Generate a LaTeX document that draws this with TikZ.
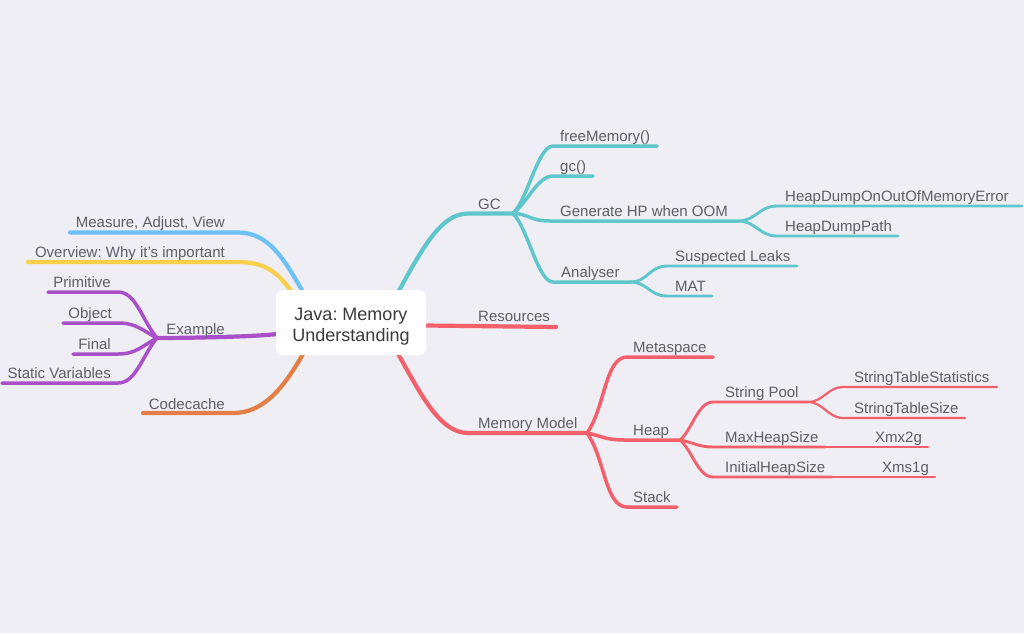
\documentclass[tikz,border=0pt]{standalone}
\usepackage{fontspec}
\setmainfont{Liberation Sans}
\definecolor{bgc}{HTML}{EFEEF4}
\definecolor{labelgray}{HTML}{5E5E66}
\definecolor{centergray}{HTML}{3A3A3E}
\definecolor{cteal}{HTML}{5FC7CB}
\definecolor{cred}{HTML}{F3606B}
\definecolor{cblue}{HTML}{6EC1F7}
\definecolor{cyellow}{HTML}{FBCF4A}
\definecolor{cpurple}{HTML}{A94FC8}
\definecolor{corange}{HTML}{E17F45}
\frenchspacing
\begin{document}
\begin{tikzpicture}[x=1pt,y=-1pt,
  lbl/.style={font=\fontsize{15}{18}\selectfont, text=labelgray, inner sep=0pt},
  lw/.style={lbl, anchor=base west},
  le/.style={lbl, anchor=base east},
  ctxt/.style={font=\fontsize{18}{21}\selectfont, text=centergray, inner sep=0pt, anchor=base},
  br/.style={line width=4.2pt, line cap=round, line join=round},
  sb/.style={line width=3.5pt, line cap=round, line join=round},
  tb/.style={line width=2.9pt, line cap=round, line join=round},
  qb/.style={line width=2.2pt, line cap=round, line join=round},
]
\useasboundingbox (0,0) rectangle (1024,633);
\fill[bgc] (0,0) rectangle (1024,633);

% ---------- coordinates ----------
% right: GC
\coordinate (gcS) at (396,296);
\coordinate (gcH) at (468,213.5);
\coordinate (gcJ) at (513,213.5);
\coordinate (fmH) at (553,146); \coordinate (fmE) at (657,146);
\coordinate (gccH) at (553,176); \coordinate (gccE) at (593,176);
\coordinate (genH) at (550,221); \coordinate (genJ) at (738,221);
\coordinate (hdoH) at (777,206); \coordinate (hdoE) at (1022,206);
\coordinate (hdpH) at (777,236); \coordinate (hdpE) at (898,236);
\coordinate (anH) at (553,282); \coordinate (anJ) at (630,282);
\coordinate (slH) at (667,266); \coordinate (slE) at (797,266);
\coordinate (matH) at (667,296); \coordinate (matE) at (712,296);
% right: Resources
\coordinate (resS) at (426,325.5); \coordinate (resE) at (556,327);
% right: Memory Model
\coordinate (mmS) at (396,350);
\coordinate (mmH) at (468,433);
\coordinate (mmJ) at (587,433);
\coordinate (msH) at (627,357); \coordinate (msE) at (713,357);
\coordinate (hpH) at (625,440); \coordinate (hpJ) at (680,440);
\coordinate (stH) at (627,507); \coordinate (stE) at (677,507);
\coordinate (spH) at (713,402); \coordinate (spJ) at (808,402);
\coordinate (stsH) at (843,387); \coordinate (stsE) at (997,387);
\coordinate (stzH) at (843,418); \coordinate (stzE) at (965,418);
\coordinate (mxH) at (713,447); \coordinate (mxJ) at (825,447); \coordinate (mxE) at (928,447);
\coordinate (inH) at (713,477); \coordinate (inJ) at (832,477); \coordinate (inE) at (935,477);
% left
\coordinate (meE) at (70,232.5); \coordinate (meH) at (238,232.5); \coordinate (meS) at (303,292);
\coordinate (ovE) at (28,262); \coordinate (ovH) at (236,262); \coordinate (ovS) at (292,292);
\coordinate (exS) at (277,334); \coordinate (exJ) at (157,338);
\coordinate (prE) at (48,292); \coordinate (prH) at (118,292);
\coordinate (obE) at (63,323); \coordinate (obH) at (118,323);
\coordinate (fiE) at (73,354); \coordinate (fiH) at (118,354);
\coordinate (svE) at (2,383); \coordinate (svH) at (118,383);
\coordinate (ccE) at (143,413); \coordinate (ccH) at (233,413); \coordinate (ccS) at (303,354);

% ---------- connectors ----------
\draw[br,cteal] (gcS) .. controls +(25,-45) and +(-28,0) .. (gcH) -- (gcJ);
\draw[sb,cteal] (gcJ) .. controls +(15,-15) and +(-15,0) .. (fmH) -- (fmE);
\draw[sb,cteal] (gcJ) .. controls +(15,-12) and +(-15,0) .. (gccH) -- (gccE);
\draw[sb,cteal] (gcJ) .. controls +(15,0) and +(-20,0) .. (genH) -- (genJ);
\draw[sb,cteal] (gcJ) .. controls +(15,15) and +(-15,0) .. (anH) -- (anJ);
\draw[tb,cteal] (genJ) .. controls +(18,0) and +(-18,0) .. (hdoH) -- (hdoE);
\draw[tb,cteal] (genJ) .. controls +(18,0) and +(-18,0) .. (hdpH) -- (hdpE);
\draw[tb,cteal] (anJ) .. controls +(18,0) and +(-18,0) .. (slH) -- (slE);
\draw[tb,cteal] (anJ) .. controls +(18,0) and +(-18,0) .. (matH) -- (matE);

\draw[br,cred] (resS) -- (resE);

\draw[br,cred] (mmS) .. controls +(25,45) and +(-28,0) .. (mmH) -- (mmJ);
\draw[sb,cred] (mmJ) .. controls +(18,-25) and +(-22,0) .. (msH) -- (msE);
\draw[sb,cred] (mmJ) .. controls +(15,3) and +(-20,0) .. (hpH) -- (hpJ);
\draw[sb,cred] (mmJ) .. controls +(18,25) and +(-22,0) .. (stH) -- (stE);
\draw[tb,cred] (hpJ) .. controls +(12,-10) and +(-15,0) .. (spH) -- (spJ);
\draw[tb,cred] (hpJ) .. controls +(12,2) and +(-15,0) .. (mxH) -- (mxJ);
\draw[tb,cred] (hpJ) .. controls +(12,10) and +(-15,0) .. (inH) -- (inJ);
\draw[qb,cred] (spJ) .. controls +(15,0) and +(-15,0) .. (stsH) -- (stsE);
\draw[qb,cred] (spJ) .. controls +(15,0) and +(-15,0) .. (stzH) -- (stzE);
\draw[qb,cred] (mxJ) -- (mxE);
\draw[qb,cred] (inJ) -- (inE);

\draw[br,cblue] (meE) -- (meH) .. controls +(30,0) and +(-20,-35) .. (meS);
\draw[br,cyellow] (ovE) -- (ovH) .. controls +(30,0) and +(-15,-20) .. (ovS);
\draw[br,cpurple] (exS) .. controls +(-25,3) and +(25,0) .. (exJ);
\draw[sb,cpurple] (prE) -- (prH) .. controls +(18,0) and +(-15,-18) .. (exJ);
\draw[sb,cpurple] (obE) -- (obH) .. controls +(18,0) and +(-15,-8) .. (exJ);
\draw[sb,cpurple] (fiE) -- (fiH) .. controls +(18,0) and +(-15,8) .. (exJ);
\draw[sb,cpurple] (svE) -- (svH) .. controls +(18,0) and +(-15,18) .. (exJ);
\draw[br,corange] (ccE) -- (ccH) .. controls +(30,0) and +(-20,35) .. (ccS);

% ---------- central node ----------
\node[fill=white, rounded corners=7pt, minimum width=150pt, minimum height=65pt, inner sep=0pt] (C) at (351,322.5) {};
\node[ctxt] (ct1) at (351,320) {Java: Memory};
\node[ctxt] (ct2) at (351,341) {Understanding};

% ---------- labels ----------
\node[lw] (tGC) at (478,209) {GC};
\node[lw] (tFM) at (560,141) {freeMemory()};
\node[lw] (tGCC) at (560,171) {gc()};
\node[lw] (tGEN) at (560,216.5) {Generate HP when OOM};
\node[lw] (tHDO) at (785,201) {HeapDumpOnOutOfMemoryError};
\node[lw] (tHDP) at (785,231) {HeapDumpPath};
\node[lw] (tAN) at (561,277) {Analyser};
\node[lw] (tSL) at (675,261) {Suspected Leaks};
\node[lw] (tMAT) at (675,291) {MAT};
\node[lw] (tRES) at (478,321.5) {Resources};
\node[lw] (tMM) at (478,428) {Memory Model};
\node[lw] (tMS) at (633,352) {Metaspace};
\node[lw] (tHP) at (633,435) {Heap};
\node[lw] (tST) at (633,502.5) {Stack};
\node[lw] (tSP) at (725,397) {String Pool};
\node[lw] (tSTS) at (854,382) {StringTableStatistics};
\node[lw] (tSTZ) at (854,413) {StringTableSize};
\node[lw] (tMX) at (725,442.5) {MaxHeapSize};
\node[lw] (tXMX) at (875,442.5) {Xmx2g};
\node[lw] (tIN) at (725,472.5) {InitialHeapSize};
\node[lw] (tXMS) at (882,472.5) {Xms1g};

\node[le] (tME) at (225,227) {Measure, Adjust, View};
\node[le] (tOV) at (225,257.5) {Overview: Why it’s important};
\node[le] (tPR) at (111,287) {Primitive};
\node[le] (tOB) at (112,318) {Object};
\node[le] (tFI) at (111,349) {Final};
\node[le] (tSV) at (111,378) {Static Variables};
\node[le] (tEX) at (225,334) {Example};
\node[le] (tCC) at (225,409) {Codecache};
\end{tikzpicture}
\end{document}
